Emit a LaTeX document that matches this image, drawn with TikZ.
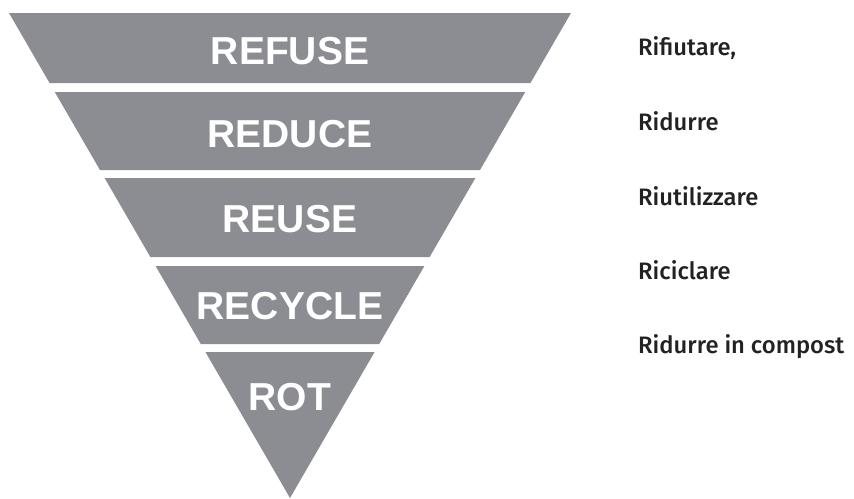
\documentclass[tikz,border=0pt]{standalone}
\usepackage{fontspec}
\setmainfont{Liberation Sans}
\newfontfamily\labelfont{Fira Sans Medium}
\definecolor{bandgrey}{RGB}{139,141,147}
\definecolor{inktext}{RGB}{34,34,36}
\begin{document}
\begin{tikzpicture}[x=1pt,y=-1pt,
  band/.style={fill=bandgrey,draw=none},
  bandtext/.style={anchor=base,text=white,inner sep=0pt,
    font=\fontsize{39}{39}\selectfont\bfseries},
  sidetext/.style={anchor=base west,text=inktext,inner sep=0pt,
    font=\labelfont\fontsize{23.8}{23.8}\selectfont}]
\useasboundingbox (0,0) rectangle (854,498);
% inverted triangle, apex at (290,498), cut into five bands
\def\apx{290}\def\apy{498}\def\slope{0.57938}
\foreach \ytop/\ybot in {13/83,92/170,178/257,266/344,352/498}{
  \pgfmathsetmacro\wt{\slope*(\apy-\ytop)}
  \pgfmathsetmacro\wb{\slope*(\apy-\ybot)}
  \fill[band] (\apx-\wt,\ytop) -- (\apx+\wt,\ytop)
     -- (\apx+\wb,\ybot) -- (\apx-\wb,\ybot) -- cycle;
}
\node[bandtext] (refuse)  at (290,64)  {REFUSE};
\node[bandtext] (reduce)  at (290,147) {REDUCE};
\node[bandtext] (reuse)   at (290,232) {REUSE};
\node[bandtext] (recycle) at (290,319) {RECYCLE};
\node[bandtext] (rot)     at (290,410) {ROT};
\node[sidetext] (t1) at (638,55)  {Rifiutare,};
\node[sidetext] (t2) at (638,130) {Ridurre};
\node[sidetext] (t3) at (638,205) {Riutilizzare};
\node[sidetext] (t4) at (638,279) {Riciclare};
\node[sidetext] (t5) at (638,353) {Ridurre in compost};
\end{tikzpicture}
\end{document}
